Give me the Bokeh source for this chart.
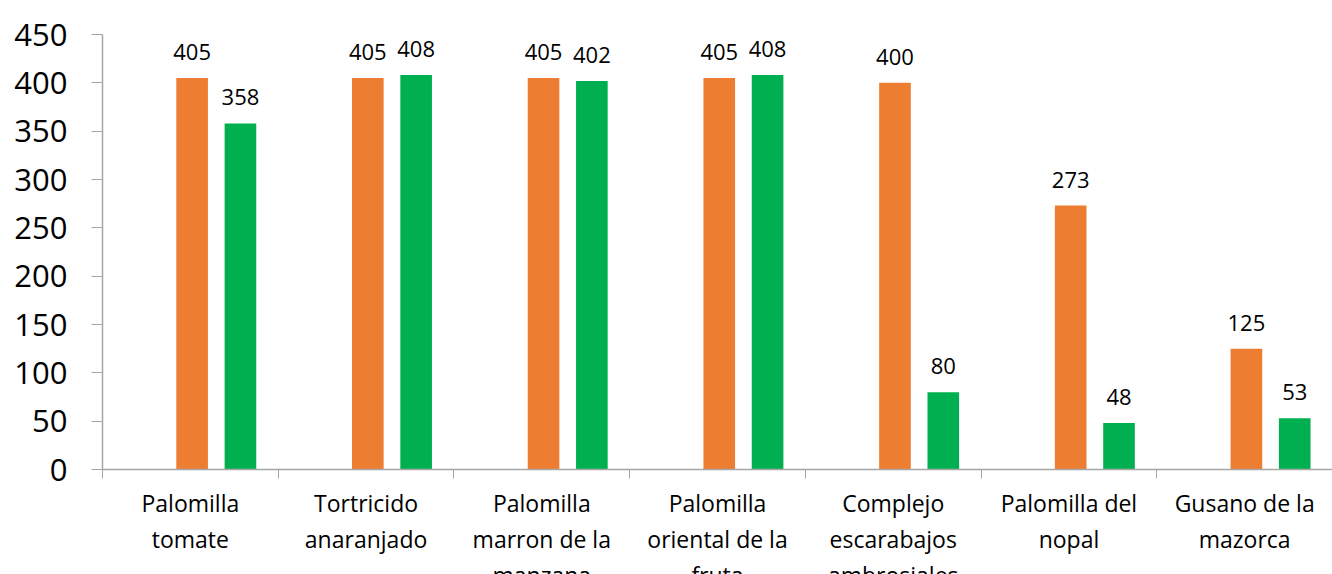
from bokeh.plotting import figure
from bokeh.models import ColumnDataSource, Range1d, FixedTicker, LabelSet, Label
from bokeh.core.properties import value
from bokeh.embed import file_html
from bokeh.resources import INLINE

categories = ["Palomilla\ntomate", "Tortricido\nanaranjado", "Palomilla\nmarron de la\nmanzana",
              "Palomilla\noriental de la\nfruta", "Complejo\nescarabajos\nambrosiales",
              "Palomilla del\nnopal", "Gusano de la\nmazorca"]
orange_vals = [405, 405, 405, 405, 400, 273, 125]
green_vals = [358, 408, 402, 408, 80, 48, 53]
y_ticks = [0, 50, 100, 150, 200, 250, 300, 350, 400, 450]

FONT = "Open Sans"
pos = list(range(1, len(categories) + 1))

src_o = ColumnDataSource(dict(x=[p + 0.01 for p in pos], top=orange_vals, label=[str(v) for v in orange_vals]))
src_g = ColumnDataSource(dict(x=[p + 0.285 for p in pos], top=green_vals, label=[str(v) for v in green_vals]))

p = figure(frame_width=1230, frame_height=435, output_backend="svg", toolbar_location=None,
           x_range=Range1d(0.5, len(categories) + 0.5), y_range=Range1d(0, 450),
           min_border_left=102, min_border_top=34, min_border_right=0, min_border_bottom=0)
p.outline_line_color = None
p.xgrid.grid_line_color = None
p.ygrid.grid_line_color = None
p.background_fill_color = "white"
p.border_fill_color = "white"

p.vbar(x="x", top="top", width=0.18, source=src_o, color="#ED7D31", line_color=None)
p.vbar(x="x", top="top", width=0.18, source=src_g, color="#00B050", line_color=None)

for src in (src_o, src_g):
    p.add_layout(LabelSet(x="x", y="top", text="label", source=src, text_align="center",
                          text_baseline="alphabetic", y_offset=18, text_font=value(FONT),
                          text_font_size="22px", text_color="black"))

# legend frame that sits mostly above the visible area (only its lower edge shows)
p.add_layout(Label(x=4.785, y=476, text=" ", text_font_size="10px", anchor="bottom_left",
                   text_align="left", text_baseline="bottom",
                   border_line_color="black", border_line_width=2.5, border_radius=26,
                   background_fill_color=None, padding=(30, 117)))

ax = p.xaxis[0]
ax.ticker = FixedTicker(ticks=pos, minor_ticks=[v + 0.5 for v in range(0, len(categories) + 1)])
ax.major_label_overrides = {i: c for i, c in zip(pos, categories)}
ax.major_tick_out = 0
ax.major_tick_in = 0
ax.minor_tick_out = 9
ax.minor_tick_in = 0
ax.minor_tick_line_color = "#A6A6A6"
ax.axis_line_color = "#A6A6A6"
ax.axis_line_width = 1.5
ax.major_label_text_font = FONT
ax.major_label_text_font_size = "23px"
ax.major_label_text_line_height = 1.13
ax.major_label_standoff = 8
ax.major_label_text_color = "black"

ay = p.yaxis[0]
ay.ticker = FixedTicker(ticks=y_ticks)
ay.minor_tick_line_color = None
ay.major_tick_out = 11
ay.major_tick_in = 0
ay.major_tick_line_color = "#A6A6A6"
ay.axis_line_color = "#A6A6A6"
ay.axis_line_width = 1.5
ay.major_label_text_font = FONT
ay.major_label_text_font_size = "31px"
ay.major_label_standoff = 24
ay.major_label_text_color = "black"

open("out.html", "w").write(file_html(p, INLINE))
